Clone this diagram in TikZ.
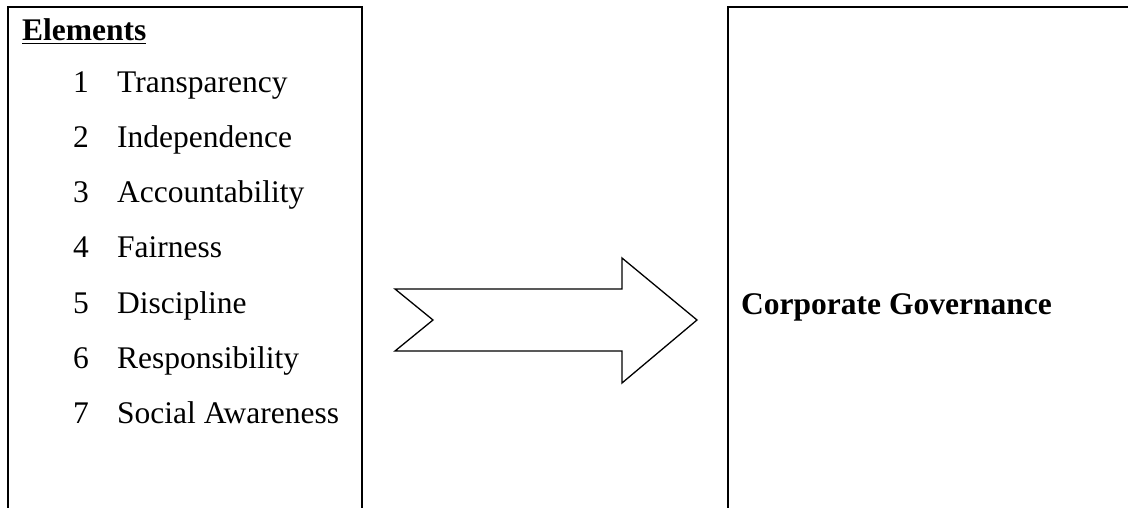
\documentclass[tikz,border=0pt]{standalone}
\usepackage{fontspec}
\setmainfont{Liberation Serif}
\usepackage{tikz}

\begin{document}
\begin{tikzpicture}[x=1pt, y=-1pt,
	boxline/.style = {line width = 2.4pt},
	txt/.style = {anchor = base west, inner sep = 0pt, font = \fontsize{31.5}{38}\selectfont}]

\useasboundingbox (0,0) rectangle (1128,508);

% left box, open at the bottom
\draw[boxline] (8,510) -- (8,7) -- (362,7) -- (362,510);
% right box, open at the bottom and right
\draw[boxline] (728,510) -- (728,7) -- (1130,7);

\node[txt] (elements) at (22,41) {\textbf{\underline{Elements}}};

\foreach \i/\name in {1/Transparency, 2/Independence, 3/Accountability, 4/Fairness,
	5/Discipline, 6/Responsibility, 7/Social Awareness}
{
	\node[txt] (num\i) at (73, {93+(\i-1)*55}) {\i};
	\node[txt] (item\i) at (117, {93+(\i-1)*55}) {\name};
}

% notched arrow
\draw[line width = 1.3pt, line join = miter] (395,289) -- (433,320) -- (395,351) -- (622,351)
	-- (622,383) -- (697,320) -- (622,258) -- (622,289) -- cycle;

\node[txt] (cg) at (741,314) {\textbf{Corporate Governance}};
\end{tikzpicture}
\end{document}
